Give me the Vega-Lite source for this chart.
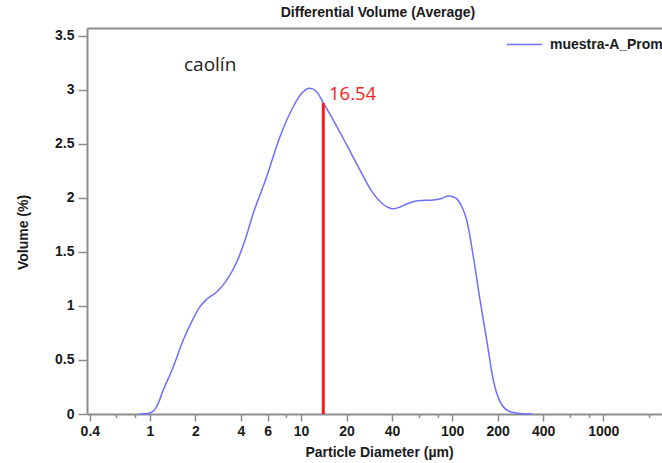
{
  "$schema": "https://vega.github.io/schema/vega-lite/v6.json",
  "width": 575,
  "height": 386,
  "autosize": "none",
  "padding": {"left": 87, "top": 28, "right": 0, "bottom": 49},
  "title": {"text": "Differential Volume (Average)", "font": "Liberation Sans", "fontSize": 14, "fontWeight": "bold", "color": "#1a1a1a", "anchor": "middle", "dx": 3.5, "offset": 6},
  "config": {
    "view": {"stroke": null},
    "axis": {"grid": false, "domainColor": "#8c8c8c", "domainWidth": 2, "tickColor": "#8c8c8c", "tickWidth": 1.5,
      "labelFont": "Liberation Sans", "labelFontSize": 14, "labelFontWeight": "bold", "labelColor": "#1a1a1a",
      "titleFont": "Liberation Sans", "titleFontSize": 14, "titleFontWeight": "bold", "titleColor": "#1a1a1a"}
  },
  "datasets": {
    "curve": [
      {"d": 0.85, "v": 0}, {"d": 0.881, "v": 0}, {"d": 1.0, "v": 0.01}, {"d": 1.107, "v": 0.068},
      {"d": 1.225, "v": 0.222}, {"d": 1.427, "v": 0.438}, {"d": 1.661, "v": 0.685}, {"d": 1.888, "v": 0.855},
      {"d": 2.143, "v": 0.994}, {"d": 2.373, "v": 1.062}, {"d": 2.763, "v": 1.13}, {"d": 3.219, "v": 1.24},
      {"d": 3.748, "v": 1.405}, {"d": 4.3, "v": 1.63}, {"d": 4.829, "v": 1.858}, {"d": 5.92, "v": 2.197},
      {"d": 7.25, "v": 2.568}, {"d": 8.88, "v": 2.845}, {"d": 10.09, "v": 2.969}, {"d": 11.45, "v": 3.016},
      {"d": 12.69, "v": 2.984}, {"d": 14.03, "v": 2.88}, {"d": 16.33, "v": 2.722}, {"d": 20.04, "v": 2.491},
      {"d": 24.54, "v": 2.259}, {"d": 30.05, "v": 2.04}, {"d": 34.99, "v": 1.94}, {"d": 37.8, "v": 1.912},
      {"d": 40.75, "v": 1.9}, {"d": 45.0, "v": 1.915}, {"d": 50.0, "v": 1.945}, {"d": 59.7, "v": 1.975},
      {"d": 75.0, "v": 1.981}, {"d": 85.0, "v": 1.995}, {"d": 94.2, "v": 2.018}, {"d": 102.0, "v": 2.01},
      {"d": 110.0, "v": 1.975}, {"d": 118.4, "v": 1.889}, {"d": 124.7, "v": 1.796},
      {"d": 138.0, "v": 1.457}, {"d": 152.8, "v": 1.056}, {"d": 169.2, "v": 0.685}, {"d": 187.1, "v": 0.315},
      {"d": 207.2, "v": 0.114}, {"d": 241.3, "v": 0.021}, {"d": 281.1, "v": 0.005}, {"d": 335.8, "v": 0}
    ],
    "marker": [{"d": 14.03, "lo": 0, "hi": 2.88}],
    "label1": [{"d": 15.3, "v": 2.903, "t": "16.54"}],
    "label2": [{"d": 1.679, "v": 3.176, "t": "caolín"}]
  },
  "resolve": {"axis": {"x": "independent"}},
  "layer": [
    {
      "data": {"name": "curve"},
      "mark": {"type": "line", "interpolate": "monotone", "strokeWidth": 1.5},
      "encoding": {
        "x": {"field": "d", "type": "quantitative",
          "scale": {"type": "log", "domain": [0.383, 2446], "nice": false},
          "axis": {"orient": "bottom", "title": "Particle Diameter (µm)",
            "values": [0.4, 0.6, 0.8, 1, 2, 4, 6, 8, 10, 20, 40, 60, 80, 100, 200, 400, 600, 800, 1000, 2000],
            "labelExpr": "indexof([0.6,0.8,8,60,80,600,800,2000], datum.value) >= 0 ? '' : toString(datum.value)",
            "tickSize": {"condition": {"test": "indexof([0.6,0.8,8,60,80,600,800,2000], datum.value) >= 0", "value": 3.5}, "value": 7},
            "labelPadding": 3, "labelOverlap": false, "labelFlush": false,
            "titleX": 292, "titleY": 38, "titleBaseline": "middle", "titleAlign": "center"}},
        "y": {"field": "v", "type": "quantitative",
          "scale": {"domain": [0, 3.574], "nice": false},
          "axis": {"title": "Volume (%)", "values": [0, 0.5, 1, 1.5, 2, 2.5, 3, 3.5], "format": ".1~f",
            "tickSize": 9, "labelPadding": 4,
            "titleX": -64, "titleY": 204, "titleBaseline": "middle", "titleAlign": "center", "titleAngle": -90}},
        "color": {"datum": "muestra-A_Promedio",
          "scale": {"range": ["#6e6eff"]},
          "legend": {"orient": "none", "legendX": 419, "legendY": -2, "title": null, "symbolType": "stroke",
            "symbolSize": 1225, "symbolStrokeWidth": 1.5, "labelFont": "Liberation Sans", "labelFontSize": 14,
            "labelFontWeight": "bold", "labelColor": "#1a1a1a", "labelOffset": 7, "labelLimit": 400, "padding": 0}}
      }
    },
    {
      "data": {"name": "marker"},
      "mark": {"type": "rule", "color": "#ff1a1a", "strokeWidth": 3},
      "encoding": {
        "x": {"field": "d", "type": "quantitative",
          "scale": {"type": "log", "domain": [0.383, 2446], "nice": false},
          "axis": {"orient": "top", "labels": false, "ticks": false, "title": null, "domain": true}},
        "y": {"field": "lo", "type": "quantitative"},
        "y2": {"field": "hi"}
      }
    },
    {
      "data": {"name": "label1"},
      "mark": {"type": "text", "align": "left", "baseline": "alphabetic", "font": "Open Sans", "fontSize": 18.5, "color": "#ff2020"},
      "encoding": {
        "x": {"field": "d", "type": "quantitative", "scale": {"type": "log", "domain": [0.383, 2446], "nice": false}, "axis": null},
        "y": {"field": "v", "type": "quantitative"},
        "text": {"field": "t"}
      }
    },
    {
      "data": {"name": "label2"},
      "mark": {"type": "text", "align": "left", "baseline": "alphabetic", "font": "Open Sans", "fontSize": 19, "color": "#222222"},
      "encoding": {
        "x": {"field": "d", "type": "quantitative", "scale": {"type": "log", "domain": [0.383, 2446], "nice": false}, "axis": null},
        "y": {"field": "v", "type": "quantitative"},
        "text": {"field": "t"}
      }
    }
  ]
}
